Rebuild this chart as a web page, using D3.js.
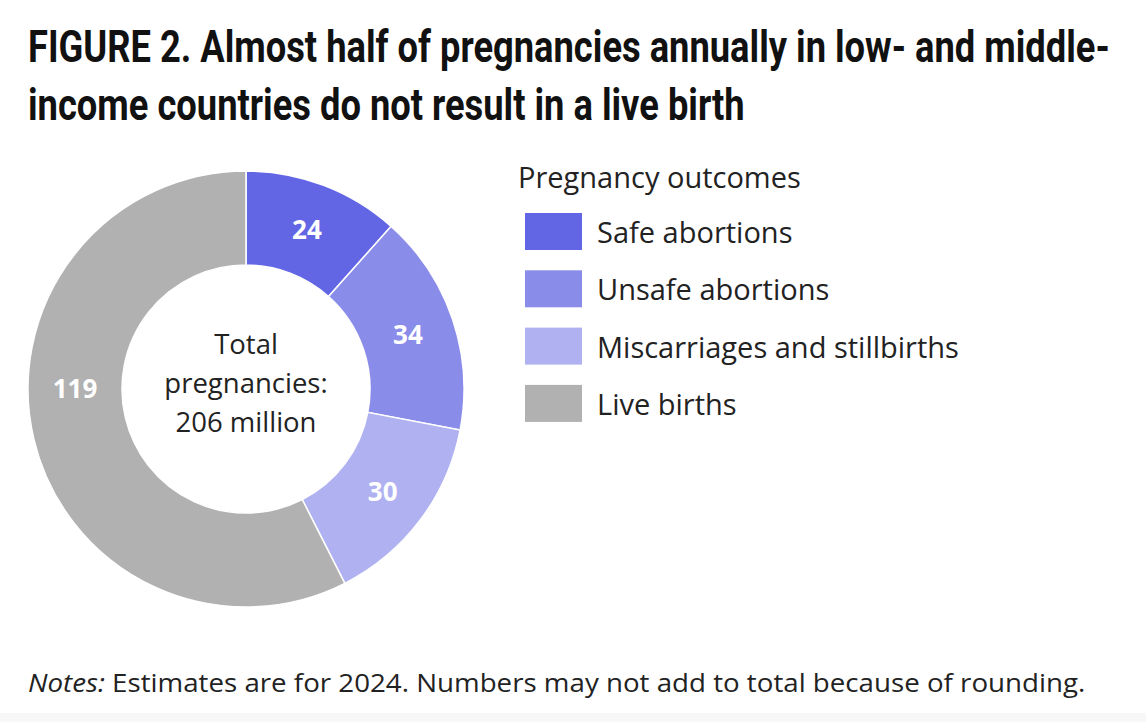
<!DOCTYPE html>
<html><head><meta charset="utf-8">
<script src="https://cdn.jsdelivr.net/npm/d3@7"></script>
<style>
html,body{margin:0;padding:0;background:#fff;}
svg{display:block;}
</style></head>
<body>
<svg id="c" width="1146" height="722"></svg>
<script>
const categories = ["Safe abortions","Unsafe abortions","Miscarriages and stillbirths","Live births"];
const values = [24, 34, 30, 119];
const colors = ["#6366e4","#8a8ce9","#b0b1f1","#b1b1b1"];
const titleLines = ["FIGURE 2. Almost half of pregnancies annually in low- and middle-","income countries do not result in a live birth"];
const centerLines = ["Total","pregnancies:","206 million"];
const legendTitle = "Pregnancy outcomes";

const svg = d3.select("#c");
svg.append("rect").attr("width",1146).attr("height",722).attr("fill","#fff");

function squeeze(sel, x, y, w){ const l=sel.node().getComputedTextLength(); sel.attr("x",0).attr("y",0).attr("transform",`translate(${x},${y}) scale(${w/l},1)`); return w/l; }

// Title (condensed look via horizontal scale)
const titleFont = "Roboto,'Liberation Sans',sans-serif";
const t1 = svg.append("text").attr("font-family",titleFont).attr("font-weight","bold").attr("font-size",44).attr("fill","#111").text(titleLines[0]);
const k = squeeze(t1, 28, 62, 1082);
svg.append("text").attr("font-family",titleFont).attr("font-weight","bold").attr("font-size",44).attr("fill","#111").text(titleLines[1])
  .attr("transform",`translate(28,120) scale(${k},1)`);

// Donut
const cx=246, cy=389, R=218, r=124;
const g = svg.append("g").attr("transform",`translate(${cx},${cy})`);
const pie = d3.pie().sort(null).value(d=>d)(values);
const arc = d3.arc().innerRadius(r).outerRadius(R);
g.selectAll("path").data(pie).join("path").attr("d",arc).attr("fill",(d,i)=>colors[i]).attr("stroke","#fff").attr("stroke-width",1.5);
const bodyFont = "'Open Sans',Lato,sans-serif";
const mid = (R+r)/2;
g.selectAll("text.v").data(pie).join("text").attr("class","v")
 .attr("transform",(d,i)=>{
   let a=(d.startAngle+d.endAngle)/2;
   if(d.endAngle-d.startAngle>Math.PI) a=1.5*Math.PI; // largest slice label placed at left
   return `translate(${mid*Math.sin(a)},${-mid*Math.cos(a)})`;
 })
 .attr("text-anchor","middle").attr("dy","0.36em").attr("font-family",bodyFont).attr("font-weight","bold").attr("font-size",26).attr("fill","#fff")
 .text(d=>d.data);

g.selectAll("text.c").data(centerLines).join("text").attr("class","c")
 .attr("x",0).attr("y",(d,i)=>-35+i*39).attr("text-anchor","middle").attr("font-family",bodyFont).attr("font-size",27.5).attr("fill","#222").text(d=>d);

// Legend
svg.append("text").attr("x",518).attr("y",188).attr("font-family",bodyFont).attr("font-size",29).attr("fill","#222").text(legendTitle);
const lg = svg.selectAll("g.lg").data(categories).join("g").attr("class","lg").attr("transform",(d,i)=>`translate(525,${213+i*57.3})`);
lg.append("rect").attr("width",57).attr("height",37).attr("fill",(d,i)=>colors[i]);
lg.append("text").attr("x",72).attr("y",30).attr("font-family",bodyFont).attr("font-size",29).attr("fill","#222").text(d=>d);

// Notes
const nt = svg.append("text").attr("font-family",bodyFont).attr("font-size",25).attr("fill","#222");
nt.append("tspan").attr("font-style","italic").text("Notes:");
nt.append("tspan").text(" Estimates are for 2024. Numbers may not add to total because of rounding.");
squeeze(nt, 28, 692, 1058);

// light bottom strip
svg.append("rect").attr("x",0).attr("y",713).attr("width",1146).attr("height",9).attr("fill","#f7f7f7");
</script>
</body></html>
